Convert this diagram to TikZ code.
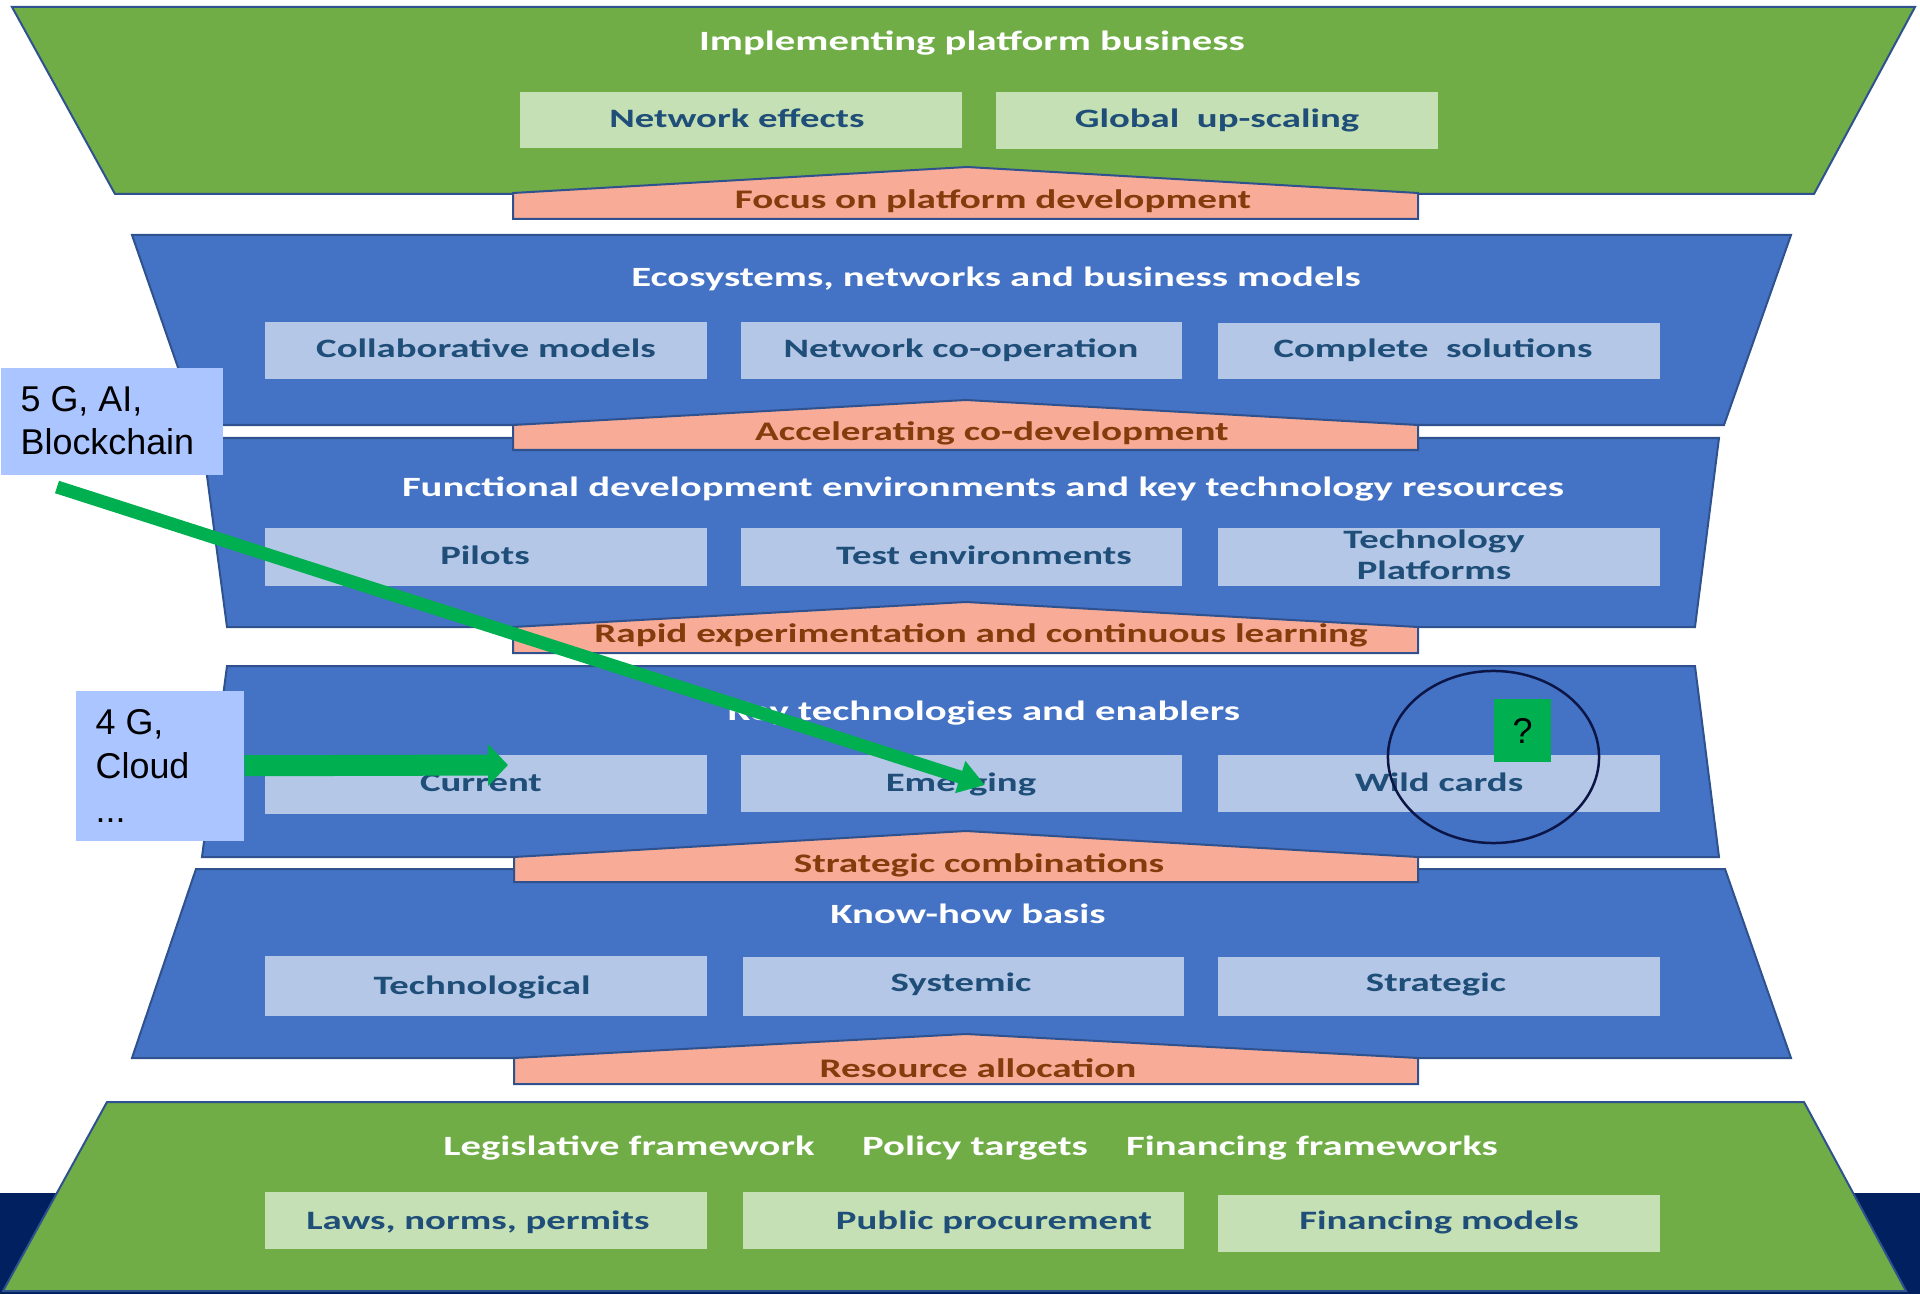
\documentclass[tikz,border=0pt]{standalone}
\usepackage{fontspec}
\setmainfont{Carlito}
\newfontfamily\layerfont[FakeStretch=1.46]{Carlito}
\newfontfamily\notefont{Liberation Sans}
\usetikzlibrary{arrows.meta}

\definecolor{leaf}{RGB}{112,173,71}
\definecolor{sea}{RGB}{68,114,196}
\definecolor{edge}{RGB}{47,82,143}
\definecolor{paleleaf}{RGB}{197,224,180}
\definecolor{palesea}{RGB}{180,199,231}
\definecolor{salmon}{RGB}{248,171,151}
\definecolor{rust}{RGB}{132,60,12}
\definecolor{ink}{RGB}{31,78,121}
\definecolor{navy}{RGB}{0,32,96}
\definecolor{notebg}{RGB}{170,197,255}
\definecolor{signal}{RGB}{0,176,80}
\definecolor{ring}{RGB}{12,22,70}

\tikzset{
  layer/.style={draw=edge, line width=0.02cm},
  push/.style={draw=edge, line width=0.02cm, fill=salmon},
  heading/.style={anchor=base, inner sep=0pt, text=white,
    font=\layerfont\bfseries\fontsize{7.93}{9}\selectfont},
  item/.style={anchor=base, inner sep=0pt, text=ink,
    font=\layerfont\bfseries\fontsize{7.55}{9}\selectfont},
  pushtext/.style={item, text=rust, font=\layerfont\bfseries\fontsize{7.62}{9}\selectfont},
  notebox/.style={fill=notebg, inner sep=0pt, anchor=north west},
  notetext/.style={anchor=base west, inner sep=0pt,
    font=\notefont\fontsize{10.2}{12}\selectfont},
}

\begin{document}
\begin{tikzpicture}[x=0.01cm, y=-0.01cm]
\useasboundingbox (0,0) rectangle (1920,1294);

\fill[navy] (0,1193) rectangle (1920,1294);

% the six layers
\draw[layer, fill=leaf] (12,7) -- (1915,7) -- (1814,194) -- (115,194) -- cycle;
\draw[layer, fill=sea] (132,235) -- (1791,235) -- (1724,425) -- (198,425) -- cycle;
\draw[layer, fill=sea] (202,438) -- (1719,438) -- (1695,627) -- (227,627) -- cycle;
\draw[layer, fill=sea] (227,666) -- (1695,666) -- (1719,857) -- (202,857) -- cycle;
\draw[layer, fill=sea] (196,869) -- (1725,869) -- (1791,1058) -- (132,1058) -- cycle;
\draw[layer, fill=leaf] (107,1102) -- (1804,1102) -- (1906,1291) -- (3,1291) -- cycle;

% arrows pushing up between layers
\draw[push] (513,219) -- (513,193) -- (967,167) -- (1418,193) -- (1418,219) -- cycle;
\draw[push] (513,450) -- (513,425) -- (966,400) -- (1418,425) -- (1418,450) -- cycle;
\draw[push] (513,653) -- (513,627) -- (966,602) -- (1418,627) -- (1418,653) -- cycle;
\draw[push] (514,882) -- (514,857) -- (966,831) -- (1418,857) -- (1418,882) -- cycle;
\draw[push] (514,1084) -- (514,1058) -- (966,1034) -- (1418,1058) -- (1418,1084) -- cycle;

% boxes
\fill[paleleaf] (520,92) rectangle (962,148);
\fill[paleleaf] (996,92) rectangle (1438,149);

\fill[palesea] (265,322) rectangle (707,379);
\fill[palesea] (741,322) rectangle (1182,379);
\fill[palesea] (1218,323) rectangle (1660,379);

\fill[palesea] (265,528) rectangle (707,586);
\fill[palesea] (741,528) rectangle (1182,586);
\fill[palesea] (1218,528) rectangle (1660,586);

\fill[palesea] (265,755) rectangle (707,814);
\fill[palesea] (741,755) rectangle (1182,812);
\fill[palesea] (1218,755) rectangle (1660,812);

\fill[palesea] (265,956) rectangle (707,1016);
\fill[palesea] (743,957) rectangle (1184,1016);
\fill[palesea] (1218,957) rectangle (1660,1016);

\fill[paleleaf] (265,1192) rectangle (707,1249);
\fill[paleleaf] (743,1192) rectangle (1184,1249);
\fill[paleleaf] (1218,1195) rectangle (1660,1252);

% layer titles
\node[heading] (h1) at (972,51) {Implementing platform business};
\node[heading] (h2) at (996,287) {Ecosystems, networks and business models};
\node[heading] (h3) at (983,496) {Functional development environments and key technology resources};
\node[heading] (h4) at (984,720) {Key technologies and enablers};
\node[heading] (h5) at (968,923) {Know-how basis};
\node[heading] (h6a) at (629,1155) {Legislative framework};
\node[heading] (h6b) at (975,1155) {Policy targets};
\node[heading] (h6c) at (1312,1155) {Financing frameworks};

% box texts
\node[item] (netfx) at (737,128) {Network effects};
\node[item] (scale) at (1217,128) {Global~ up-scaling};
\node[item] (collab) at (486,358) {Collaborative models};
\node[item] (coop) at (961,358) {Network co-operation};
\node[item] (solut) at (1433,358) {Complete~ solutions};
\node[item] (pilot) at (485,564) {Pilots};
\node[item] (testenv) at (984,564) {Test environments};
\node[item] (techpl) at (1434,548) {Technology};
\node[item] (platf) at (1434,579) {Platforms};
\node[item] (curr) at (481,791) {Current};
\node[item] (emerg) at (961,791) {Emerging};
\node[item] (wild) at (1439,791) {Wild cards};
\node[item] (techn) at (482,994) {Technological};
\node[item] (syst) at (961,991) {Systemic};
\node[item] (strat) at (1436,991) {Strategic};
\node[item] (laws) at (478,1229) {Laws, norms, permits};
\node[item] (procur) at (994,1229) {Public procurement};
\node[item] (finmod) at (1439,1229) {Financing models};

\node[pushtext] (p1) at (993,209) {Focus on platform development};
\node[pushtext] (p2) at (992,441) {Accelerating co-development};
\node[pushtext] (p3) at (981,642) {Rapid experimentation and continuous learning};
\node[pushtext] (p4) at (979,872) {Strategic combinations};
\node[pushtext] (p5) at (978,1077) {Resource allocation};

% notes on top
\node[notebox, minimum width=2.22cm, minimum height=1.07cm] (g5) at (0,367) {};
\node[notetext] (g5a) at (20,412) {5 G, AI,};
\node[notetext] (g5b) at (20,455) {Blockchain};

\node[notebox, minimum width=1.68cm, minimum height=1.5cm] (g4) at (75,690) {};
\node[notetext] (g4a) at (95,735) {4 G,};
\node[notetext] (g4b) at (95,778) {Cloud};
\node[notetext] (g4c) at (95,822) {...};

\draw[ring, line width=0.025cm] (1493.5,757) ellipse [x radius=1.055cm, y radius=0.86cm];
\node[fill=signal, minimum width=0.57cm, minimum height=0.63cm, inner sep=0pt,
  font=\notefont\fontsize{10.2}{12}\selectfont] (qbox) at (1522.5,730.5) {?};

\coordinate (curtip) at (508,765);
\coordinate (g5foot) at (57,487);
\coordinate (emtip) at (985,785);
\draw[signal, line width=0.21cm, -{Triangle[length=0.2cm, width=0.41cm]}] (g4.east) -- (curtip);
\draw[signal, line width=0.13cm, -{Triangle[length=0.26cm, width=0.32cm]}] (g5foot) -- (emtip);

\end{tikzpicture}
\end{document}
